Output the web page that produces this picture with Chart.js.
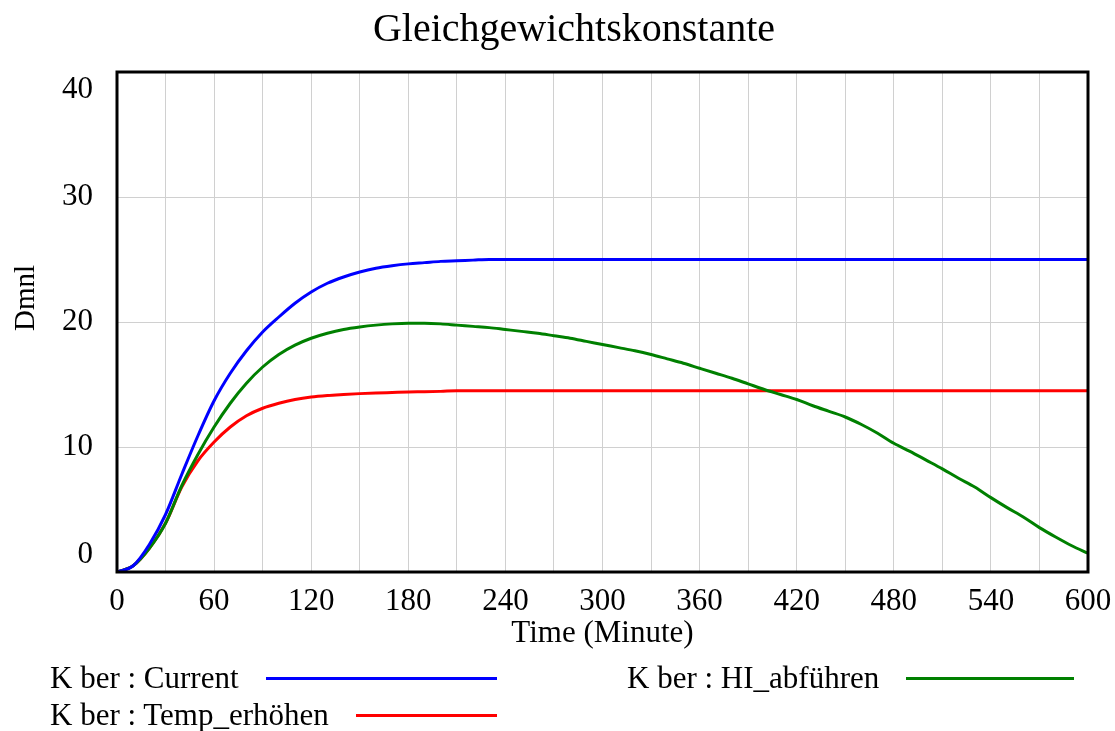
<!DOCTYPE html>
<html>
<head>
<meta charset="utf-8">
<script src="https://cdn.jsdelivr.net/npm/chart.js@4"></script>
<style>
  body { margin: 0; background: #fff; }
  #wrap { position: relative; width: 1115px; height: 731px; }
  #legend { position: absolute; left: 50px; top: 660px; width: 1030px;
            font-family: "Liberation Serif", serif; font-size: 31px; color: #000;
            display: grid; grid-template-columns: 447px 447px; column-gap: 130px; row-gap: 1px; }
  .item { display: flex; align-items: center; height: 36px; }
  .item .sw { flex: 1; height: 3px; margin-left: 27px; }
</style>
</head>
<body>
<div id="wrap">
  <canvas id="chart" width="1115" height="731"></canvas>
  <div id="legend"></div>
</div>
<script>
const times = [0, 10, 20, 30, 40, 50, 60, 70, 80, 90, 100, 110, 120, 130, 140, 150, 160, 170, 180, 190,
    200, 210, 220, 230, 240, 250, 260, 270, 280, 290, 300, 310, 320, 330, 340, 350, 360, 370, 380, 390,
    400, 410, 420, 430, 440, 450, 460, 470, 480, 490, 500, 510, 520, 530, 540, 550, 560, 570, 580, 590, 600];

const current = [0, 0.5, 2.2, 4.6, 7.8, 10.9, 13.7, 15.9, 17.7, 19.2, 20.4, 21.5, 22.4, 23.1, 23.6, 24.0, 24.3, 24.5, 24.65, 24.75,
    24.85, 24.9, 24.95, 25, 25, 25, 25, 25, 25, 25, 25, 25, 25, 25, 25, 25, 25, 25, 25, 25,
    25, 25, 25, 25, 25, 25, 25, 25, 25, 25, 25, 25, 25, 25, 25, 25, 25, 25, 25, 25, 25];

const hiAbfuehren = [0, 0.5, 1.9, 3.9, 6.9, 9.4, 11.6, 13.5, 15.1, 16.4, 17.4, 18.15, 18.7, 19.1, 19.4, 19.6, 19.75, 19.85, 19.9, 19.9,
    19.85, 19.75, 19.65, 19.55, 19.4, 19.25, 19.1, 18.9, 18.7, 18.45, 18.2, 17.95, 17.7, 17.4, 17.05, 16.7, 16.3, 15.9, 15.5, 15.05,
    14.6, 14.2, 13.8, 13.3, 12.85, 12.4, 11.8, 11.1, 10.3, 9.65, 8.95, 8.25, 7.5, 6.8, 5.95, 5.15, 4.4, 3.55, 2.8, 2.1, 1.5];

const tempErhoehen = [0, 0.5, 1.9, 3.9, 6.8, 8.9, 10.4, 11.6, 12.5, 13.1, 13.5, 13.8, 14.0, 14.12, 14.2, 14.27, 14.32, 14.36, 14.4, 14.42,
    14.45, 14.5, 14.5, 14.5, 14.5, 14.5, 14.5, 14.5, 14.5, 14.5, 14.5, 14.5, 14.5, 14.5, 14.5, 14.5, 14.5, 14.5, 14.5, 14.5,
    14.5, 14.5, 14.5, 14.5, 14.5, 14.5, 14.5, 14.5, 14.5, 14.5, 14.5, 14.5, 14.5, 14.5, 14.5, 14.5, 14.5, 14.5, 14.5, 14.5, 14.5];

const seriesNames = ['K ber : Current', 'K ber : HI_abführen', 'K ber : Temp_erhöhen'];
const seriesColors = ['#0000ff', '#008000', '#ff0000'];
const seriesValues = [current, hiAbfuehren, tempErhoehen];
const yTickLabels = ['0', '10', '20', '30', '40'];
const chartTitle = 'Gleichgewichtskonstante';

const serif = '"Liberation Serif", "Times New Roman", serif';

// Vensim-style frame, title, y labels (0 and 40 pulled inside the plot height)
const framePlugin = {
    id: 'frame',
    afterDraw(chart) {
        const ctx = chart.ctx;
        const a = chart.chartArea;
        const y = chart.scales.y;
        ctx.save();
        ctx.strokeStyle = '#000';
        ctx.lineWidth = 3;
        ctx.strokeRect(a.left, a.top, a.right - a.left, a.bottom - a.top);

        ctx.fillStyle = '#000';
        ctx.textAlign = 'center';
        ctx.textBaseline = 'middle';
        ctx.font = '40px ' + serif;
        ctx.fillText(chartTitle, 574, 30);

        ctx.font = '31px ' + serif;
        ctx.textAlign = 'right';
        yTickLabels.forEach(function(t) {
            let py = y.getPixelForValue(Number(t));
            if (Number(t) === 40) py += 18;
            if (Number(t) === 0) py -= 17;
            ctx.fillText(t, 93, py);
        });

        ctx.translate(26, 298);
        ctx.rotate(-Math.PI / 2);
        ctx.textAlign = 'center';
        ctx.font = '29px ' + serif;
        ctx.fillText('Dmnl', 0, 0);
        ctx.restore();
    }
};

new Chart(document.getElementById('chart'), {
    type: 'line',
    data: {
        datasets: seriesValues.map(function(vals, i) {
            return {
                label: seriesNames[i],
                data: times.map(function(t, j) { return { x: t, y: vals[j] }; }),
                borderColor: seriesColors[i],
                backgroundColor: seriesColors[i],
                borderWidth: 3,
                pointRadius: 0,
                cubicInterpolationMode: 'monotone',
                fill: false
            };
        })
    },
    options: {
        responsive: false,
        animation: false,
        layout: { padding: { left: 0, right: 27, top: 72, bottom: 79 } },
        plugins: {
            legend: { display: false },
            tooltip: { enabled: false },
            title: { display: false }
        },
        scales: {
            x: {
                type: 'linear',
                min: 0,
                max: 600,
                afterFit: function(scale) {
                    scale.height = 80;
                    scale.paddingLeft = 0;
                    scale.paddingRight = 0;
                },
                ticks: {
                    stepSize: 30,
                    autoSkip: false,
                    maxRotation: 0,
                    color: '#000',
                    padding: 11,
                    font: { family: serif, size: 31 },
                    callback: function(v) { return v % 60 === 0 ? String(v) : ''; }
                },
                grid: { color: '#d0d0d0', lineWidth: 1, drawTicks: false },
                border: { display: false },
                title: {
                    display: true,
                    text: 'Time (Minute)',
                    color: '#000',
                    font: { family: serif, size: 31 },
                    padding: { top: 0, bottom: 0 }
                }
            },
            y: {
                min: 0,
                max: 40,
                afterFit: function(scale) {
                    scale.width = 117;
                    scale.paddingTop = 0;
                    scale.paddingBottom = 0;
                },
                ticks: {
                    stepSize: 10,
                    color: 'rgba(0,0,0,0)',
                    font: { family: serif, size: 31 }
                },
                grid: { color: '#d0d0d0', lineWidth: 1, drawTicks: false },
                border: { display: false }
            }
        }
    },
    plugins: [framePlugin]
});

const legendEl = document.getElementById('legend');
[0, 1, 2].forEach(function(i) {
    const item = document.createElement('div');
    item.className = 'item';
    const label = document.createElement('span');
    label.textContent = seriesNames[i];
    const sw = document.createElement('span');
    sw.className = 'sw';
    sw.style.background = seriesColors[i];
    item.appendChild(label);
    item.appendChild(sw);
    legendEl.appendChild(item);
});
</script>
</body>
</html>
